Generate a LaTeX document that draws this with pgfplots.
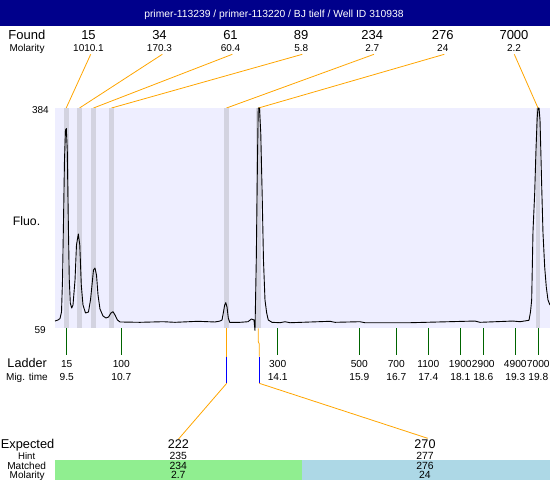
\documentclass[border=0pt]{standalone}
\usepackage{fontspec}
\setmainfont{Liberation Sans}
\usepackage{pgfplots}
\pgfplotsset{compat=1.18}
\definecolor{titlebar}{RGB}{0,0,139}
\definecolor{plotbg}{RGB}{238,238,255}
\definecolor{band}{RGB}{211,211,224}
\definecolor{conn}{RGB}{255,165,0}
\definecolor{ladgreen}{RGB}{0,100,0}
\definecolor{matchgreen}{RGB}{144,238,144}
\definecolor{matchblue}{RGB}{173,216,230}
\newcommand{\fs}[1]{\fontsize{#1pt}{#1pt}\selectfont}

\pgfplotstableread{
t f
9.249 69.3
9.314 70.8
9.358 73.0
9.391 82.6
9.413 129.9
9.435 218.5
9.456 307.2
9.478 351.5
9.496 353.7
9.517 322.0
9.539 218.5
9.561 129.9
9.583 95.9
9.614 88.5
9.642 93.0
9.686 129.9
9.718 181.6
9.758 197.9
9.790 181.6
9.823 122.5
9.860 93.0
9.915 81.2
9.980 82.6
10.024 100.4
10.057 122.5
10.089 144.7
10.122 147.6
10.155 137.3
10.188 107.8
10.231 87.1
10.297 76.7
10.362 73.8
10.417 75.2
10.471 81.2
10.515 83.1
10.559 78.2
10.613 70.8
10.668 67.9
11.104 67.4
11.607 68.3
11.869 67.4
12.371 68.9
12.742 67.9
12.851 69.3
12.895 70.8
12.927 82.6
12.953 93.0
12.977 96.4
13.004 90.0
13.032 73.8
13.063 67.4
13.287 67.4
13.462 68.3
13.538 72.3
13.593 70.8
13.615 55.3
13.643 159.5
13.669 307.2
13.686 384
13.712 384
13.741 347.1
13.774 248.1
13.800 159.5
13.833 100.4
13.870 81.2
13.905 70.8
13.986 67.4
14.161 66.8
14.270 68.3
14.379 66.8
15.252 68.9
15.361 67.4
15.907 68.3
16.016 66.8
16.998 66.8
18.417 69.3
18.526 67.4
19.247 69.3
19.400 68.3
19.596 70.4
19.629 82.6
19.655 100.4
19.684 202.3
19.721 258.4
19.749 322.0
19.775 369.2
19.793 384
19.815 384
19.837 366.3
19.854 322.0
19.876 262.9
19.902 199.3
19.939 149.1
19.974 119.6
20.011 100.4
20.054 93.0
}\trace

\begin{document}
\begin{tikzpicture}
\tikzset{every node/.append style={inner sep=0pt}}
% ---------------- canvas axis in pixel units ----------------
\begin{axis}[at={(0pt,0pt)}, anchor=north west, width=550pt, height=480pt,
  scale only axis, xmin=0, xmax=550, ymin=0, ymax=480, y dir=reverse,
  hide axis, clip=false]
% title bar
\addplot[fill=titlebar, draw=none] coordinates {(0,0) (550,0) (550,26) (0,26)} -- cycle;
\node[white, anchor=base, font=\fs{10.3}] at (axis cs:274,17.3) {primer-113239 / primer-113220 / BJ tielf / Well ID 310938};
% Found row
\node[anchor=base west, font=\fs{13}] at (axis cs:8.3,39.3) {Found};
\node[anchor=base west, font=\fs{10}] at (axis cs:9.3,51.3) {Molarity};
\foreach \x/\a/\b in {88.5/15/1010.1, 159.5/34/170.3, 230.5/61/60.4, 301.2/89/5.8, 372.2/234/2.7, 442.8/276/24, 514/7000/2.2}{
  \edef\tmp{\noexpand\node[anchor=base, font=\noexpand\fs{13}] at (axis cs:\x,39.3) {\a};
    \noexpand\node[anchor=base, font=\noexpand\fs{10}] at (axis cs:\x,51.3) {\b};}
  \tmp
}
% connectors to peaks
\addplot[conn, line width=0.8pt] coordinates {(90.7,54.3) (66.2,108)};
\addplot[conn, line width=0.8pt] coordinates {(162.3,54.3) (79.5,108)};
\addplot[conn, line width=0.8pt] coordinates {(232.3,54.3) (93.5,108)};
\addplot[conn, line width=0.8pt] coordinates {(302.3,54.3) (111.5,108)};
\addplot[conn, line width=0.8pt] coordinates {(374,54.3) (226.5,108)};
\addplot[conn, line width=0.8pt] coordinates {(444.3,54.3) (258.5,108)};
\addplot[conn, line width=0.8pt] coordinates {(514.3,54.3) (538,108)};
% y labels
\node[anchor=base east, font=\fs{10}] at (axis cs:49,113.3) {384};
\node[anchor=base east, font=\fs{10}] at (axis cs:46,333.3) {59};
\node[anchor=base west, font=\fs{12.3}] at (axis cs:12.7,225) {Fluo.};
% ladder
\node[anchor=base west, font=\fs{12.6}] at (axis cs:7.3,367.3) {Ladder};
\node[anchor=base west, font=\fs{10}] at (axis cs:6,380) {Mig. time};
\foreach \x/\a/\b in {66.7/15/9.5, 121.3/100/10.7, 277.7/300/14.1, 359.3/500/15.9, 396.3/700/16.7, 428.3/1100/17.4, 460.3/1900/18.1, 483.3/2900/18.6, 515.3/4900/19.3, 538.3/7000/19.8}{
  \edef\tmp{\noexpand\addplot[ladgreen, line width=0.9pt] coordinates {(\x,328.3) (\x,355)};
    \noexpand\node[anchor=base, font=\noexpand\fs{10.2}] at (axis cs:\x,367.3) {\a};
    \noexpand\node[anchor=base, font=\noexpand\fs{10.2}] at (axis cs:\x,380.3) {\b};}
  \tmp
}
% matching connectors
\addplot[conn, line width=0.8pt] coordinates {(226.7,328.3) (226.7,356.7)};
\addplot[blue, line width=0.8pt] coordinates {(226.7,356.7) (226.7,383.3)};
\addplot[conn, line width=0.8pt] coordinates {(226.7,383.3) (178.3,439.3)};
\addplot[conn, line width=0.8pt] coordinates {(258.3,328.3) (258.3,341.7) (259.3,344) (259.3,356.7)};
\addplot[blue, line width=0.8pt] coordinates {(259.3,356.7) (259.3,383.3)};
\addplot[conn, line width=0.8pt] coordinates {(259.3,383.3) (427.7,438.3)};
% matched bars
\addplot[fill=matchgreen, draw=none] coordinates {(55,460) (301.7,460) (301.7,480) (55,480)} -- cycle;
\addplot[fill=matchblue, draw=none] coordinates {(301.7,460) (550,460) (550,480) (301.7,480)} -- cycle;
% expected block
\node[anchor=base west, font=\fs{12.8}] at (axis cs:0.7,448.3) {Expected};
\node[anchor=base, font=\fs{9.6}] at (axis cs:26.7,459) {Hint};
\node[anchor=base, font=\fs{10.1}] at (axis cs:26.7,469) {Matched};
\node[anchor=base, font=\fs{10}] at (axis cs:27.2,478.3) {Molarity};
\foreach \x/\e/\h/\m/\c in {178.3/222/235/234/2.7, 425/270/277/276/24}{
  \edef\tmp{\noexpand\node[anchor=base, font=\noexpand\fs{12.6}] at (axis cs:\x,448.3) {\e};
    \noexpand\node[anchor=base, font=\noexpand\fs{10.4}] at (axis cs:\x,459) {\h};
    \noexpand\node[anchor=base, font=\noexpand\fs{10.4}] at (axis cs:\x,469) {\m};
    \noexpand\node[anchor=base, font=\noexpand\fs{10.4}] at (axis cs:\x,478.3) {\c};}
  \tmp
}
\end{axis}
% ---------------- electropherogram axis ----------------
\begin{axis}[at={(55pt,-108pt)}, anchor=north west, width=495pt, height=220pt,
  scale only axis, xmin=9.249, xmax=20.055, ymin=59, ymax=384,
  hide axis, clip=false]
\addplot[fill=plotbg, draw=none] coordinates {(9.249,59) (20.055,59) (20.055,384) (9.249,384)} -- cycle;
\foreach \a/\b in {9.441/9.545, 9.732/9.836, 10.037/10.141, 10.430/10.534, 12.941/13.045, 13.639/13.743, 19.741/19.845}{
  \edef\tmp{\noexpand\addplot[fill=band, draw=none] coordinates {(\a,59) (\b,59) (\b,384) (\a,384)} -- cycle;}
  \tmp
}
\addplot[black, mark=none, line width=0.9pt, line join=round] table[x=t, y=f] {\trace};
\end{axis}
\pgfresetboundingbox
\path[use as bounding box] (0pt,0pt) rectangle (550pt,-480pt);
\end{tikzpicture}
\end{document}
